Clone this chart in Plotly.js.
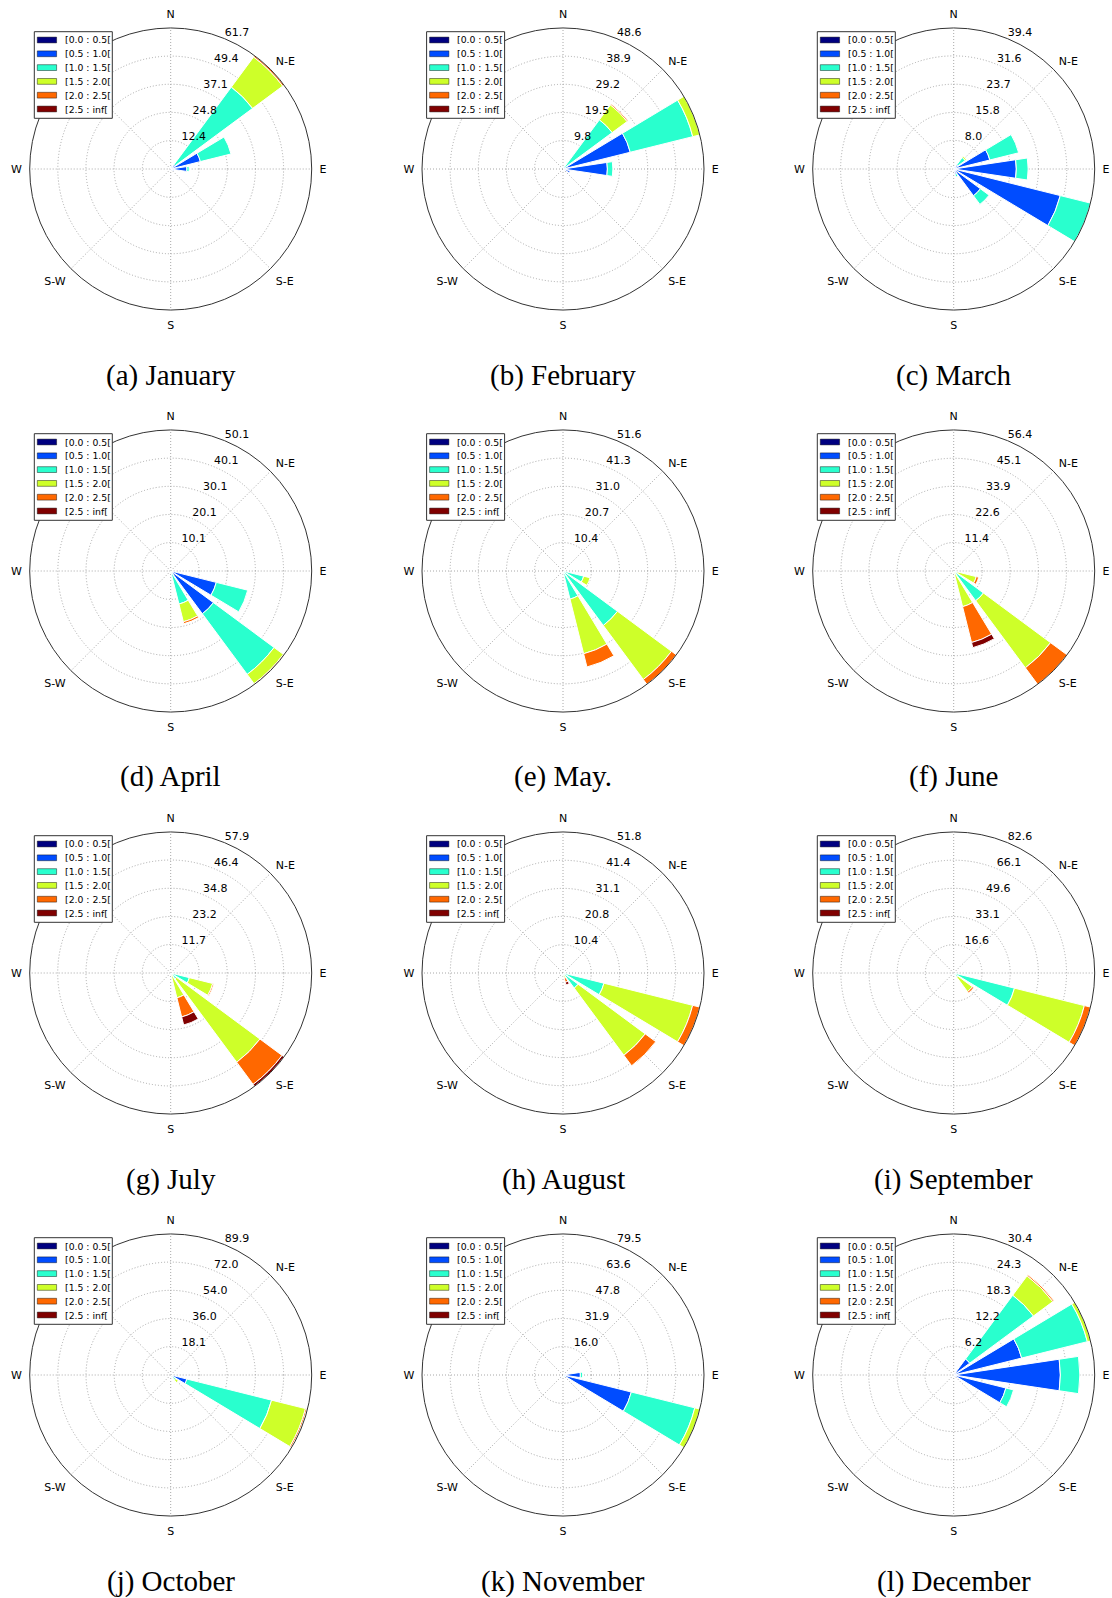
<!DOCTYPE html>
<html><head><meta charset="utf-8">
<script src="https://cdn.plot.ly/plotly-3.0.1.min.js"></script>
<style>html,body{margin:0;padding:0;background:#fff}</style>
</head><body><div id="chart" style="width:1112px;height:1598px"></div>
<script>
// ---------------- data ----------------
const directions = [0,22.5,45,67.5,90,112.5,135,157.5,180,202.5,225,247.5,270,292.5,315,337.5];
const compassVals = [0,45,90,135,180,225,270,315];
// N-W is hidden behind the legend box in the original
const compassLabels = ["N","N-E","E","S-E","S","S-W","W",""];
const speedBins = ["[0.0 : 0.5[","[0.5 : 1.0[","[1.0 : 1.5[","[1.5 : 2.0[","[2.0 : 2.5[","[2.5 : inf["];
const captions = ["(a) January","(b) February","(c) March","(d) April","(e) May.","(f) June","(g) July","(h) August","(i) September","(j) October","(k) November","(l) December"];

// rows = speed bins, columns = directions (frequency, %)
const jan = [
  [0,0,0,0,0,0,0,0,0,0,0,0,0,0,0,0],
  [0,1.5,2.5,13.4,7.1,1.5,0,0,0,0,0,0,0,0,0,0],
  [0,0,42.1,13.8,1.0,0,0,0,0,0,0,0,0,0,0,0],
  [0,0,16.4,0,0,0,0,0,0,0,0,0,0,0,0,0],
  [0,0,0.7,0,0,0,0,0,0,0,0,0,0,0,0,0],
  [0,0,0,0,0,0,0,0,0,0,0,0,0,0,0,0]];
const feb = [
  [0,0,0,0,0,0,0,0,0,0,0,0,0,0,0,0],
  [0,0,0.5,23.9,15.3,2.5,0,0,0,0,0,0,0,0,0,0],
  [0,0,20.6,22.2,1.9,0,0,0,0,0,0,0,0,0,0,0],
  [0,0,6.4,2.5,0,0,0,0,0,0,0,0,0,0,0,0],
  [0,0,0.4,0,0,0,0,0,0,0,0,0,0,0,0,0],
  [0,0,0,0,0,0,0,0,0,0,0,0,0,0,0,0]];
const mar = [
  [0,0,0,0,0,0,0,0,0,0,0,0,0,0,0,0],
  [0,0,1.5,10.4,17.5,30.7,9.3,1.5,0,0,0,0,0,0,0,0],
  [0,0,2.5,8.3,3.3,8.7,3.0,0.8,0,0,0,0,0,0,0,0],
  [0,0,0.4,0,0,0,0,0,0,0,0,0,0,0,0,0],
  [0,0,0,0,0,0,0,0,0,0,0,0,0,0,0,0],
  [0,0,0,0,0,0,0,0,0,0,0,0,0,0,0,0]];
const apr = [
  [0,0,0,0,0,0,0,0,0,0,0,0,0,0,0,0],
  [0,0,0,0,0,16.7,18.9,0,0,0,0,0,0,0,0,0],
  [0,0,0,0,0,11.5,26.8,12.1,0,0,0,0,0,0,0,0],
  [0,0,0,0,0,0,4.1,6.5,0,0,0,0,0,0,0,0],
  [0,0,0,0,0,0,0.3,0.7,0,0,0,0,0,0,0,0],
  [0,0,0,0,0,0,0,0,0,0,0,0,0,0,0,0]];
const may = [
  [0,0,0,0,0,0,0,0,0,0,0,0,0,0,0,0],
  [0,0,0,0,0,0.5,0.6,0,0,0,0,0,0,0,0,0],
  [0,0,0,0,0,7.3,24.2,10.6,0,0,0,0,0,0,0,0],
  [0,0,0,0,0,2.4,24.6,20.6,0,0,0,0,0,0,0,0],
  [0,0,0,0,0,0,2.2,5.0,0,0,0,0,0,0,0,0],
  [0,0,0,0,0,0,0,0,0,0,0,0,0,0,0,0]];
const jun = [
  [0,0,0,0,0,0,0,0,0,0,0,0,0,0,0,0],
  [0,0,0,0,0,0,0,0,0,0,0,0,0,0,0,0],
  [0,0,0,0,0,1.5,14.8,0.8,0,0,0,0,0,0,0,0],
  [0,0,0,0,0,7.8,33.4,13.9,0,0,0,0,0,0,0,0],
  [0,0,0,0,0,1.0,8.2,14.8,0,0,0,0,0,0,0,0],
  [0,0,0,0,0,0,0,2.1,0,0,0,0,0,0,0,0]];
const jul = [
  [0,0,0,0,0,0,0,0,0,0,0,0,0,0,0,0],
  [0,0,0,0,0,0,0,0,0,0,0,0,0,0,0,0],
  [0,0,0,0,0,7.9,3.0,1.0,0,0,0,0,0,0,0,0],
  [0,0,0,0,0,9.9,42.6,9.5,0,0,0,0,0,0,0,0],
  [0,0,0,0,0,0.5,11.3,8.1,0,0,0,0,0,0,0,0],
  [0,0,0,0,0,0,1.0,3.4,0,0,0,0,0,0,0,0]];
const aug = [
  [0,0,0,0,0,0,0,0,0,0,0,0,0,0,0,0],
  [0,0,0,0,0,0,0,0,0,0,0,0,0,0,0,0],
  [0,0,0,0,0,15.5,6.9,1.0,0,0,0,0,0,0,0,0],
  [0,0,0,0,0,33.6,30.7,1.0,0,0,0,0,0,0,0,0],
  [0,0,0,0,0,2.7,4.8,1.5,0,0,0,0,0,0,0,0],
  [0,0,0,0,0,0,0,1.0,0,0,0,0,0,0,0,0]];
const sep = [
  [0,0,0,0,0,0,0,0,0,0,0,0,0,0,0,0],
  [0,0,0,0,0,0,0,0,0,0,0,0,0,0,0,0],
  [0,0,0,0,0,36.7,3.0,0,0,0,0,0,0,0,0,0],
  [0,0,0,0,0,42.2,10.6,0,0,0,0,0,0,0,0,0],
  [0,0,0,0,0,3.7,1.0,0,0,0,0,0,0,0,0,0],
  [0,0,0,0,0,0,0,0,0,0,0,0,0,0,0,0]];
const oct = [
  [0,0,0,0,0,0,0,0,0,0,0,0,0,0,0,0],
  [0,0,0,0,0,10.6,0,0,0,0,0,0,0,0,0,0],
  [0,0,0,0,0,55.7,4.0,0,0,0,0,0,0,0,0,0],
  [0,0,0,0,0,22.3,2.0,0,0,0,0,0,0,0,0,0],
  [0,0,0,0,0,1.0,0,0,0,0,0,0,0,0,0,0],
  [0,0,0,0,0,0.3,0,0,0,0,0,0,0,0,0,0]];
const nov = [
  [0,0,0,0,0,0,0,0,0,0,0,0,0,0,0,0],
  [0,0,0,0,9.8,39.7,0,0,0,0,0,0,0,0,0,0],
  [0,0,0,0,1.3,36.9,1.5,0,0,0,0,0,0,0,0,0],
  [0,0,0,0,0,2.9,0,0,0,0,0,0,0,0,0,0],
  [0,0,0,0,0,0,0,0,0,0,0,0,0,0,0,0],
  [0,0,0,0,0,0,0,0,0,0,0,0,0,0,0,0]];
const dec = [
  [0,0,0,0,0,0,0,0,0,0,0,0,0,0,0,0],
  [0,0,4.3,15.1,23.0,11.6,0,0,0,0,0,0,0,0,0,0],
  [0,0,17.1,14.6,4.2,1.7,0,0,0,0,0,0,0,0,0,0],
  [0,0,5.2,0.7,0,0,0,0,0,0,0,0,0,0,0,0],
  [0,0,0.3,0,0,0,0,0,0,0,0,0,0,0,0,0],
  [0,0,0,0,0,0,0,0,0,0,0,0,0,0,0,0]];

// radial tick labels for each month
const janTicks = ["12.4","24.8","37.1","49.4","61.7"];
const febTicks = ["9.8","19.5","29.2","38.9","48.6"];
const marTicks = ["8.0","15.8","23.7","31.6","39.4"];
const aprTicks = ["10.1","20.1","30.1","40.1","50.1"];
const mayTicks = ["10.4","20.7","31.0","41.3","51.6"];
const junTicks = ["11.4","22.6","33.9","45.1","56.4"];
const julTicks = ["11.7","23.2","34.8","46.4","57.9"];
const augTicks = ["10.4","20.8","31.1","41.4","51.8"];
const sepTicks = ["16.6","33.1","49.6","66.1","82.6"];
const octTicks = ["18.1","36.0","54.0","72.0","89.9"];
const novTicks = ["16.0","31.9","47.8","63.6","79.5"];
const decTicks = ["6.2","12.2","18.3","24.3","30.4"];

// ---------------- styling / layout ----------------
const monthData = [jan,feb,mar,apr,may,jun,jul,aug,sep,oct,nov,dec];
const monthTicks = [janTicks,febTicks,marTicks,aprTicks,mayTicks,junTicks,julTicks,augTicks,sepTicks,octTicks,novTicks,decTicks];
const palette = ["#000080","#004cff","#29ffce","#ceff29","#ff6800","#800000"];

const W = 1112, H = 1598;
const colX = [170.7, 563.0, 953.7];
const rowY = [169, 571, 973, 1375];
const captionY = [375, 777, 1179, 1581];
const R = 141;
const sans = "DejaVu Sans, sans-serif";
const labelBearing = 22.5;   // compass bearing of the radial tick labels

const px = x => x / W;
const py = y => 1 - y / H;

const traces = [];
const layout = {
  width: W, height: H,
  margin: {l:0, r:0, t:0, b:0},
  paper_bgcolor: "#fff",
  showlegend: false,
  shapes: [], annotations: []
};

for (let m = 0; m < 12; m++) {
  const key = m === 0 ? "polar" : "polar" + (m + 1);
  const cx = colX[m % 3], cy = rowY[Math.floor(m / 3)];
  const tickText = monthTicks[m];
  const tickVals = tickText.map(Number);
  layout[key] = {
    domain: {x: [px(cx - R), px(cx + R)], y: [py(cy + R), py(cy - R)]},
    bgcolor: "#fff",
    barmode: "stack",
    angularaxis: {
      rotation: 90, direction: "clockwise",
      tickmode: "array", tickvals: compassVals, ticktext: compassLabels,
      showline: true, linecolor: "#333", linewidth: 1,
      showgrid: true, gridcolor: "#a8a8a8", griddash: "1px,2px", gridwidth: 1,
      ticks: "outside", ticklen: 5, tickcolor: "rgba(0,0,0,0)",
      tickfont: {family: sans, size: 11, color: "#000"}
    },
    radialaxis: {
      range: [0, tickVals[tickVals.length - 1]],
      tickmode: "array", tickvals: tickVals, ticktext: tickText,
      angle: 90 - labelBearing, showticklabels: false,
      showline: false, ticks: "",
      showgrid: true, gridcolor: "#a8a8a8", griddash: "1px,2px", gridwidth: 1
    }
  };
  for (let b = 0; b < speedBins.length; b++) {
    traces.push({
      type: "barpolar",
      subplot: key,
      name: speedBins[b],
      r: monthData[m][b],
      theta: directions,
      width: 17,
      marker: {color: palette[b], line: {color: "#fff", width: 1}},
      showlegend: false,
      hoverinfo: "skip"
    });
  }
  // radial tick labels, placed on the rings through the polar scale
  traces.push({
    type: "scatterpolar", subplot: key, mode: "text",
    r: tickVals, theta: tickVals.map(() => labelBearing),
    text: tickText, textposition: "top right",
    textfont: {family: sans, size: 11, color: "#000"},
    cliponaxis: false, showlegend: false, hoverinfo: "skip"
  });
  // legend box (drawn per subplot)
  const lx = cx - 136.4, ly = cy - 137.3, lw = 78, lh = 86.6;
  layout.shapes.push({type: "rect", xref: "paper", yref: "paper",
    x0: px(lx), x1: px(lx + lw), y0: py(ly + lh), y1: py(ly),
    line: {color: "#333", width: 1}, fillcolor: "#fff", layer: "above"});
  for (let b = 0; b < speedBins.length; b++) {
    const rowC = ly + 8.3 + b * 13.8;
    layout.shapes.push({type: "rect", xref: "paper", yref: "paper",
      x0: px(lx + 3), x1: px(lx + 22.3), y0: py(rowC + 2.9), y1: py(rowC - 2.9),
      line: {color: "rgba(0,0,0,0.55)", width: 0.8}, fillcolor: palette[b], layer: "above"});
    layout.annotations.push({xref: "paper", yref: "paper",
      x: px(lx + 28.5), y: py(rowC), xanchor: "left", yanchor: "middle",
      text: speedBins[b], showarrow: false,
      font: {family: sans, size: 9.3, color: "#000"}});
  }
  layout.annotations.push({xref: "paper", yref: "paper",
    x: px(cx), y: py(captionY[Math.floor(m / 3)]), xanchor: "center", yanchor: "middle",
    text: captions[m], showarrow: false,
    font: {family: "Liberation Serif, serif", size: 29, color: "#000"}});
}

Plotly.newPlot("chart", traces, layout, {staticPlot: true, displayModeBar: false});
</script></body></html>
